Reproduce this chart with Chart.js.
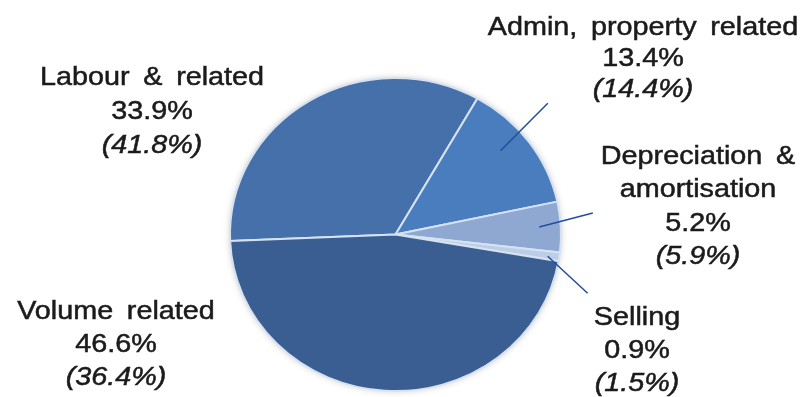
<!DOCTYPE html>
<html>
<head>
<meta charset="utf-8">
<script src="https://cdn.jsdelivr.net/npm/chart.js@4.4.1/dist/chart.umd.min.js"></script>
<style>
  html, body { margin: 0; padding: 0; background: #ffffff; overflow: hidden; }
  canvas { display: block; }
</style>
</head>
<body>
<canvas id="costPie" width="808" height="397"></canvas>
<script>
// Cost breakdown: current-year share, prior-year share in brackets
const categories = ['Labour & related', 'Admin, property related', 'Depreciation &\namortisation', 'Selling', 'Volume related'];
const shareCurrent = [33.9, 13.4, 5.2, 0.9, 46.6];
const sharePrior = [41.8, 14.4, 5.9, 1.5, 36.4];
const sliceColors = ['#4570A9', '#4A7DBD', '#8EA8D2', '#BCCDE6', '#3A5E92'];

// Label block placement (centre x, first line centre y, line height)
const labelLayout = [
  { x: 152, y: 78, lh: 34 },
  { x: 643, y: 28, lh: 31 },
  { x: 698, y: 157, lh: 33.5 },
  { x: 637, y: 318, lh: 33 },
  { x: 116, y: 312, lh: 33 }
];
// Leader lines: angle offsets (deg) from slice middle and radius factors
const leaderLayout = [
  null,
  { a1: -3.9, r1: 0.83, a2: -6.1, r2: 1.245 },
  { a1: -0.4, r1: 0.87, a2: -3.8, r2: 1.2 },
  { a1: 0.4, r1: 0.93, a2: 9.7, r2: 1.22 },
  null
];

const Y_SQUASH = 0.9456;   // pie is drawn slightly flattened
const TEXT_STRETCH = 1.15; // wide label lettering
const FONT = '"Liberation Sans", Arial, sans-serif';

function arcCentre(chart) {
  const arc = chart.getDatasetMeta(0).data[0];
  return { x: arc.x, y: arc.y, r: arc.outerRadius };
}

const flattenPlugin = {
  id: 'flatten',
  beforeDatasetsDraw(chart) {
    const ctx = chart.ctx;
    const c = arcCentre(chart);
    ctx.save();
    ctx.translate(c.x, c.y);
    ctx.scale(1, Y_SQUASH);
    ctx.translate(-c.x, -c.y);
    // soft halo behind the pie
    ctx.save();
    ctx.shadowColor = 'rgba(0,0,0,0.22)';
    ctx.shadowBlur = 7;
    ctx.beginPath();
    ctx.arc(c.x, c.y, c.r, 0, Math.PI * 2);
    ctx.fillStyle = '#ffffff';
    ctx.fill();
    ctx.restore();
  },
  afterDatasetsDraw(chart) {
    chart.ctx.restore();
  }
};

function drawTextLine(ctx, text, x, y, italic) {
  ctx.save();
  ctx.font = (italic ? 'italic ' : '') + '25px ' + FONT;
  ctx.fillStyle = '#1b1b1b';
  ctx.strokeStyle = '#1b1b1b';
  ctx.lineWidth = 0.5;
  ctx.textAlign = 'center';
  ctx.textBaseline = 'middle';
  try { ctx.wordSpacing = '5px'; } catch (e) {}
  ctx.translate(x, y);
  ctx.scale(TEXT_STRETCH, 1);
  ctx.fillText(text, 0, 0);
  ctx.strokeText(text, 0, 0);
  ctx.restore();
}

const labelPlugin = {
  id: 'sliceLabels',
  afterDraw(chart) {
    const ctx = chart.ctx;
    const arcs = chart.getDatasetMeta(0).data;
    const toRad = Math.PI / 180;

    // leader lines
    arcs.forEach((arc, i) => {
      const L = leaderLayout[i];
      if (!L) return;
      const mid = (arc.startAngle + arc.endAngle) / 2;
      const R = arc.outerRadius;
      const p = (a, r) => ({
        x: arc.x + Math.cos(mid + a * toRad) * r * R,
        y: arc.y + Math.sin(mid + a * toRad) * r * R * Y_SQUASH
      });
      const p1 = p(L.a1, L.r1), p2 = p(L.a2, L.r2);
      ctx.save();
      ctx.strokeStyle = '#1F4E9E';
      ctx.lineWidth = 1.5;
      ctx.beginPath();
      ctx.moveTo(p1.x, p1.y);
      ctx.lineTo(p2.x, p2.y);
      ctx.stroke();
      ctx.restore();
    });

    // text blocks
    categories.forEach((name, i) => {
      const pos = labelLayout[i];
      const lines = name.split('\n').map(t => ({ t, it: false }));
      lines.push({ t: shareCurrent[i].toFixed(1) + '%', it: false });
      lines.push({ t: '(' + sharePrior[i].toFixed(1) + '%)', it: true });
      lines.forEach((ln, k) => drawTextLine(ctx, ln.t, pos.x, pos.y + k * pos.lh, ln.it));
    });
  }
};

new Chart(document.getElementById('costPie').getContext('2d'), {
  type: 'pie',
  data: {
    labels: categories,
    datasets: [{
      data: shareCurrent,
      backgroundColor: sliceColors,
      borderColor: '#D6E2F1',
      borderWidth: 2,
      radius: 165.5,
      clip: false
    }]
  },
  options: {
    responsive: false,
    animation: false,
    events: [],
    rotation: 267.6,
    layout: { padding: { left: 230, right: 247, top: 72, bottom: 0 } },
    plugins: {
      legend: { display: false },
      tooltip: { enabled: false }
    }
  },
  plugins: [flattenPlugin, labelPlugin]
});
</script>
</body>
</html>
